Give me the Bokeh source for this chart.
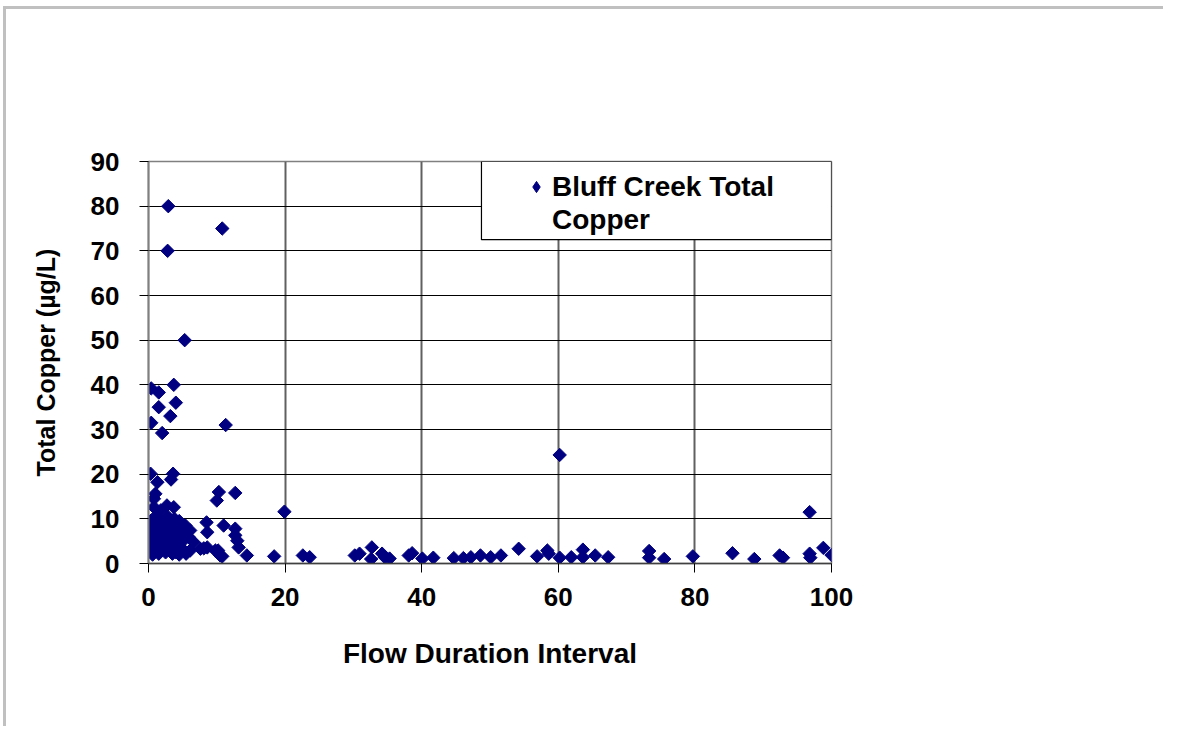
import numpy as np
from bokeh.plotting import figure
from bokeh.models import ColumnDataSource, Legend, LegendItem, BoxAnnotation
from bokeh.embed import file_html
from bokeh.resources import INLINE

flow_interval = [
    2.9, 2.8, 10.8, 5.3, 3.7, 0.4, 1.5, 4.0, 1.5, 3.2, 0.4, 2.0, 11.3, 60.2,
    0.3, 3.6, 1.3, 3.3, 1.0, 0.8, 0.8, 10.3, 10.0, 12.7, 19.9, 96.8,
    2.7, 3.7, 1.8,
    8.5, 8.6, 11.0, 12.7, 12.7, 13.0, 13.2, 14.4, 8.6, 7.6, 9.8, 10.5, 6.1, 5.9, 6.6, 6.1, 5.2, 5.4,
    10.8, 10.2, 8.1,
    0.3, 0.5, 0.3, 0.5, 0.3, 1.0, 1.2, 1.0, 1.3, 1.0, 1.5, 2.0, 2.2, 2.0, 2.3, 2.0, 2.5,
    2.8, 3.0, 3.2, 2.8, 3.0, 3.3, 3.8, 4.0, 3.7, 4.0, 4.2, 4.0, 4.5, 4.8, 5.0, 4.7, 5.5,
    4.5, 3.5, 1.5, 0.6,
    18.4, 22.6, 23.6, 30.2, 30.9, 32.7, 32.6, 34.2, 34.6, 35.3, 38.1, 38.6, 40.1, 41.7,
    44.7, 46.1, 47.2, 48.6, 50.1, 51.6, 54.2, 56.9, 58.4, 58.6, 60.2, 61.9, 63.6, 63.6,
    65.4, 67.3, 73.3, 73.3, 75.5, 79.7, 85.5, 88.7, 92.4, 92.9, 96.8, 96.9, 98.8, 100.0,
]
total_copper = [
    80.0, 70.0, 75.0, 50.0, 40.0, 39.2, 38.3, 36.0, 35.0, 33.0, 31.5, 29.2, 31.0, 24.3,
    20.1, 20.1, 18.2, 18.8, 15.6, 14.5, 12.6, 16.0, 14.1, 15.8, 11.6, 11.5,
    13.0, 12.6, 11.9,
    9.2, 7.0, 8.5, 7.8, 6.3, 5.1, 3.6, 1.8, 3.6, 3.3, 2.9, 1.8, 7.4, 5.9, 4.8, 2.9, 2.9, 8.5,
    1.6, 2.9, 3.4,
    9.5, 8.0, 6.5, 5.0, 3.5, 10.5, 9.0, 7.5, 6.0, 4.5, 3.0, 9.5, 8.0, 6.5, 5.0, 3.5, 2.5,
    10.5, 9.0, 7.5, 6.0, 4.5, 3.0, 10.0, 8.5, 7.0, 5.5, 4.0, 2.5, 9.5, 7.0, 5.0, 3.5, 2.2,
    2.0, 2.2, 2.2, 2.0,
    1.6, 1.8, 1.4, 1.8, 2.2, 3.6, 1.0, 2.2, 1.4, 1.1, 1.8, 2.3, 1.1, 1.3,
    1.2, 1.2, 1.4, 1.8, 1.4, 1.8, 3.3, 1.6, 2.9, 2.2, 1.3, 1.4, 3.1, 1.4,
    1.8, 1.4, 2.8, 1.3, 1.0, 1.6, 2.3, 1.0, 1.8, 1.3, 2.2, 1.3, 3.5, 1.9,
]
x_ticks = [0, 20, 40, 60, 80, 100]
y_ticks = [0, 10, 20, 30, 40, 50, 60, 70, 80, 90]
legend_lines = ["Bluff Creek Total", "Copper"]
x_title = "Flow Duration Interval"
y_title = "Total Copper (µg/L)"

FONT = "Liberation Sans"
NAVY = "#000080"

p = figure(width=1160, height=720, output_backend="svg", toolbar_location=None,
           x_range=(0, 100), y_range=(0, 90),
           min_border_left=142, min_border_right=335, min_border_top=152, min_border_bottom=166)
p.styles = {"border-top": "3px solid #c0c0c0", "border-left": "3px solid #c0c0c0",
            "margin-left": "3px", "margin-top": "6px"}
p.background_fill_color = "white"
p.border_fill_color = "white"
p.outline_line_color = "#808080"
p.outline_line_width = 1.5

src = ColumnDataSource(dict(x=flow_interval, y=total_copper))
r = p.scatter("x", "y", source=src, marker="square", angle=np.pi / 4, size=9.5,
              fill_color=NAVY, line_color=NAVY)

p.xaxis.ticker = x_ticks
p.yaxis.ticker = y_ticks
for ax in (p.xaxis, p.yaxis):
    ax.major_label_text_font = FONT
    ax.major_label_text_font_style = "bold"
    ax.major_label_text_font_size = "26px"
    ax.major_label_text_color = "black"
    ax.axis_label_text_font = FONT
    ax.axis_label_text_font_style = "bold"
    ax.axis_label_text_color = "black"
    ax.minor_tick_line_color = None
    ax.major_tick_in = 0
    ax.major_tick_out = 9
    ax.major_tick_line_color = "black"
p.xaxis.major_label_standoff = 15
p.yaxis.major_label_standoff = 20
p.xaxis.axis_label = x_title
p.yaxis.axis_label = y_title
p.xaxis.axis_label_text_font_size = "28px"
p.yaxis.axis_label_text_font_size = "25px"
p.xaxis.axis_label_standoff = 29
p.yaxis.axis_label_standoff = 28
p.yaxis.axis_line_color = "#808080"
p.yaxis.axis_line_width = 2
p.xaxis.axis_line_color = "#404040"
p.xaxis.axis_line_width = 1.5

p.ygrid.grid_line_color = "black"
p.ygrid.grid_line_width = 1
p.xgrid.grid_line_color = "#606060"
p.xgrid.grid_line_width = 2

# legend frame
box = BoxAnnotation(left=48.75, right=100, bottom=72.5, top=90,
                    fill_color="white", fill_alpha=1,
                    line_color="black", line_alpha=1, line_width=1.2, level="overlay")
p.add_layout(box)

nan_src = ColumnDataSource(dict(x=[float("nan")], y=[float("nan")]))
key = p.scatter("x", "y", source=nan_src, marker="diamond", size=13,
                fill_color=NAVY, line_color=NAVY)
blank = p.scatter("x", "y", source=nan_src, marker="diamond", size=13,
                  fill_alpha=0, line_alpha=0)
legend = Legend(items=[LegendItem(label=legend_lines[0], renderers=[key]),
                       LegendItem(label=legend_lines[1], renderers=[blank])],
                location=(374, 327), margin=0, padding=0, spacing=0,
                glyph_width=28, glyph_height=33, label_height=33, label_standoff=2,
                border_line_color=None, background_fill_alpha=0,
                label_text_font=FONT, label_text_font_style="bold",
                label_text_font_size="28px", label_text_color="black")
p.add_layout(legend, "center")

open("out.html", "w").write(file_html(p, INLINE))
